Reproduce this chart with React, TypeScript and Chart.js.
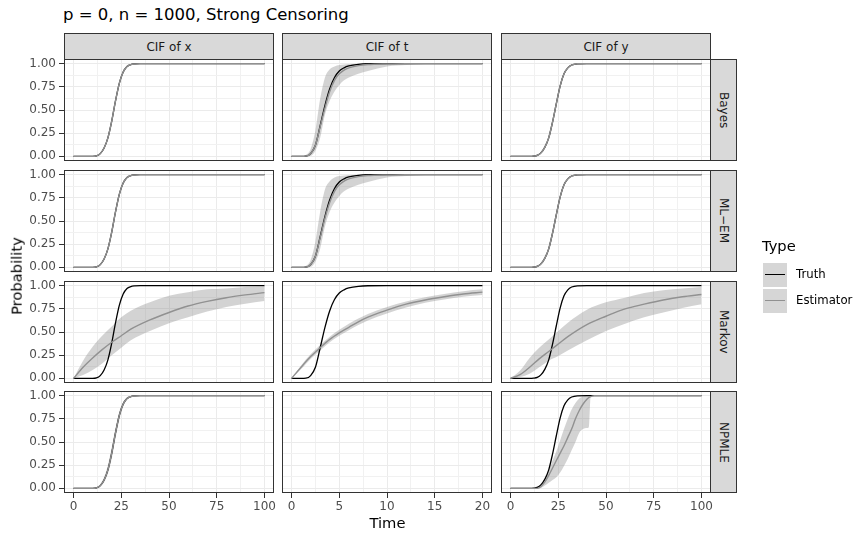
import React, { useEffect, useRef } from 'react';
import { Chart, registerables } from 'chart.js';
Chart.register(...registerables);

const FONT = "'DejaVu Sans', 'Liberation Sans', sans-serif";

// ---- facet labels ----
const colLabels = ['CIF of x', 'CIF of t', 'CIF of y'];
const rowLabels = ['Bayes', 'ML\u2212EM', 'Markov', 'NPMLE'];

// ---- tick values / labels ----
const xTicks100 = [0, 25, 50, 75, 100];
const xLabels100 = ['0', '25', '50', '75', '100'];
const xMinor100 = [12.5, 37.5, 62.5, 87.5];
const xTicks20 = [0, 5, 10, 15, 20];
const xLabels20 = ['0', '5', '10', '15', '20'];
const xMinor20 = [2.5, 7.5, 12.5, 17.5];
const yTicks = [0, 0.25, 0.5, 0.75, 1];
const yLabels = ['0.00', '0.25', '0.50', '0.75', '1.00'];
const yMinor = [0.125, 0.375, 0.625, 0.875];

// ---- time grids ----
const timeA = [0, 5, 10, 12, 14, 16, 18, 20, 22, 24, 26, 28, 30, 32, 35, 40, 50, 60, 70, 80, 90, 100];
const timeT = [0, 1, 1.5, 2, 2.5, 3, 3.5, 4, 4.5, 5, 5.5, 6, 7, 8, 10, 12, 14, 16, 18, 20];
const timeM = [0, 5, 10, 15, 20, 25, 30, 40, 50, 60, 70, 80, 90, 100];
const timeM2 = [0, 1, 2, 3, 4, 5, 6, 7, 8, 10, 12, 14, 16, 18, 20];
const timeN = [0, 10, 14, 16, 18, 20, 22, 24, 26, 28, 30, 32, 34, 36, 38, 40, 41, 42, 44, 50, 60, 70, 80, 90, 100];

// ---- truth ----
const truthX = [0, 0, 0, 0.005, 0.03, 0.09, 0.2, 0.38, 0.6, 0.79, 0.91, 0.97, 0.99, 0.997, 1, 1, 1, 1, 1, 1, 1, 1];
const truthT = [0, 0, 0.002, 0.03, 0.12, 0.33, 0.55, 0.73, 0.85, 0.92, 0.955, 0.975, 0.993, 0.999, 1, 1, 1, 1, 1, 1];
const truthY = [0, 0, 0, 0.002, 0.01, 0.04, 0.1, 0.2, 0.37, 0.57, 0.76, 0.89, 0.955, 0.985, 0.998, 1, 1, 1, 1, 1, 1, 1];

// ---- Bayes ----
const bayesEstX = [0, 0, 0, 0.005, 0.03, 0.09, 0.2, 0.38, 0.6, 0.79, 0.91, 0.97, 0.99, 0.997, 1, 1, 1, 1, 1, 1, 1, 1];
const bayesEstT = [0, 0, 0.002, 0.03, 0.12, 0.32, 0.52, 0.7, 0.82, 0.89, 0.93, 0.955, 0.978, 0.99, 0.997, 1, 1, 1, 1, 1];
const bayesHiT = [0, 0.002, 0.015, 0.08, 0.28, 0.62, 0.85, 0.94, 0.97, 0.985, 0.99, 0.995, 1, 1, 1, 1, 1, 1, 1, 1];
const bayesLoT = [0, 0, 0, 0.005, 0.06, 0.2, 0.45, 0.6, 0.7, 0.77, 0.82, 0.85, 0.89, 0.92, 0.97, 0.985, 0.995, 1, 1, 1];
const bayesEstY = [0, 0, 0, 0.002, 0.01, 0.04, 0.1, 0.2, 0.37, 0.57, 0.76, 0.89, 0.955, 0.985, 0.998, 1, 1, 1, 1, 1, 1, 1];

// ---- ML-EM ----
const emEstX = [0, 0, 0, 0.005, 0.03, 0.09, 0.2, 0.38, 0.6, 0.79, 0.91, 0.97, 0.99, 0.997, 1, 1, 1, 1, 1, 1, 1, 1];
const emEstT = [0, 0, 0.002, 0.03, 0.12, 0.32, 0.53, 0.7, 0.82, 0.89, 0.93, 0.955, 0.978, 0.99, 0.997, 1, 1, 1, 1, 1];
const emHiT = [0, 0.002, 0.015, 0.08, 0.28, 0.6, 0.84, 0.93, 0.97, 0.985, 0.99, 0.995, 1, 1, 1, 1, 1, 1, 1, 1];
const emLoT = [0, 0, 0, 0.005, 0.06, 0.2, 0.44, 0.6, 0.7, 0.77, 0.82, 0.85, 0.89, 0.92, 0.97, 0.985, 0.995, 1, 1, 1];
const emEstY = [0, 0, 0, 0.002, 0.01, 0.04, 0.1, 0.2, 0.37, 0.57, 0.76, 0.89, 0.955, 0.985, 0.998, 1, 1, 1, 1, 1, 1, 1];

// ---- Markov ----
const markovEstX = [0, 0.12, 0.22, 0.31, 0.39, 0.46, 0.53, 0.63, 0.71, 0.78, 0.83, 0.87, 0.9, 0.925];
const markovHiX = [0, 0.19, 0.34, 0.46, 0.56, 0.66, 0.73, 0.82, 0.89, 0.93, 0.96, 0.97, 0.985, 0.99];
const markovLoX = [0, 0.035, 0.09, 0.16, 0.25, 0.33, 0.41, 0.51, 0.595, 0.66, 0.72, 0.77, 0.805, 0.835];
const markovEstT = [0, 0.12, 0.235, 0.33, 0.42, 0.49, 0.55, 0.61, 0.66, 0.735, 0.8, 0.845, 0.88, 0.91, 0.93];
const markovHiT = [0, 0.14, 0.26, 0.36, 0.45, 0.525, 0.59, 0.645, 0.695, 0.77, 0.83, 0.875, 0.91, 0.94, 0.96];
const markovLoT = [0, 0.1, 0.21, 0.3, 0.39, 0.46, 0.52, 0.575, 0.625, 0.7, 0.765, 0.815, 0.85, 0.88, 0.9];
const markovEstY = [0, 0.04, 0.12, 0.21, 0.29, 0.37, 0.45, 0.58, 0.67, 0.75, 0.8, 0.845, 0.88, 0.905];
const markovHiY = [0, 0.085, 0.22, 0.33, 0.42, 0.51, 0.6, 0.74, 0.82, 0.87, 0.92, 0.95, 0.97, 0.985];
const markovLoY = [0, 0.015, 0.05, 0.12, 0.19, 0.24, 0.3, 0.41, 0.51, 0.59, 0.66, 0.71, 0.76, 0.8];

// ---- NPMLE ----
const npmleEstX = [0, 0, 0, 0.005, 0.03, 0.09, 0.2, 0.38, 0.6, 0.79, 0.91, 0.97, 0.99, 0.997, 1, 1, 1, 1, 1, 1, 1, 1];
const npmleHiX = [0, 0, 0, 0.01, 0.045, 0.12, 0.25, 0.44, 0.65, 0.83, 0.93, 0.98, 0.995, 1, 1, 1, 1, 1, 1, 1, 1, 1];
const npmleLoX = [0, 0, 0, 0.002, 0.018, 0.065, 0.16, 0.32, 0.54, 0.74, 0.88, 0.955, 0.985, 0.995, 1, 1, 1, 1, 1, 1, 1, 1];
const npmleEstY = [0, 0, 0, 0.02, 0.07, 0.14, 0.22, 0.3, 0.38, 0.46, 0.55, 0.64, 0.75, 0.84, 0.91, 0.96, 0.98, 0.99, 1, 1, 1, 1, 1, 1, 1];
const npmleHiY = [0, 0, 0.005, 0.04, 0.1, 0.19, 0.3, 0.4, 0.52, 0.64, 0.75, 0.85, 0.92, 0.97, 0.99, 1, 1, 1, 1, 1, 1, 1, 1, 1, 1];
const npmleLoY = [0, 0, 0, 0.005, 0.03, 0.06, 0.09, 0.12, 0.17, 0.24, 0.32, 0.41, 0.5, 0.6, 0.64, 0.65, 0.66, 1, 1, 1, 1, 1, 1, 1, 1];

type Cfg = {
  tx?: number[]; truth?: number[];
  ex?: number[]; est?: number[];
  bx?: number[]; hi?: number[]; lo?: number[];
  short?: boolean;
};

const panels: Cfg[][] = [
  [
    { tx: timeA, truth: truthX, ex: timeA, est: bayesEstX },
    { tx: timeT, truth: truthT, ex: timeT, est: bayesEstT, bx: timeT, hi: bayesHiT, lo: bayesLoT, short: true },
    { tx: timeA, truth: truthY, ex: timeA, est: bayesEstY },
  ],
  [
    { tx: timeA, truth: truthX, ex: timeA, est: emEstX },
    { tx: timeT, truth: truthT, ex: timeT, est: emEstT, bx: timeT, hi: emHiT, lo: emLoT, short: true },
    { tx: timeA, truth: truthY, ex: timeA, est: emEstY },
  ],
  [
    { tx: timeA, truth: truthX, ex: timeM, est: markovEstX, bx: timeM, hi: markovHiX, lo: markovLoX },
    { tx: timeT, truth: truthT, ex: timeM2, est: markovEstT, bx: timeM2, hi: markovHiT, lo: markovLoT, short: true },
    { tx: timeA, truth: truthY, ex: timeM, est: markovEstY, bx: timeM, hi: markovHiY, lo: markovLoY },
  ],
  [
    { tx: timeA, truth: truthX, ex: timeA, est: npmleEstX, bx: timeA, hi: npmleHiX, lo: npmleLoX },
    { short: true },
    { tx: timeA, truth: truthY, ex: timeN, est: npmleEstY, bx: timeN, hi: npmleHiY, lo: npmleLoY },
  ],
];

// ---- layout ----
const COL_LEFT = [64, 282, 501];
const ROW_TOP = [59, 170, 281, 391];
const PW = 210;
const PH = 102;
const YW = 50;
const XH = 30;
const P = 14;

const GREY = '#919191';
const RIBBON = 'rgba(128,128,128,0.35)';
const GRID = '#EBEBEB';
const GRID_MINOR = '#F1F1F1';
const DARK = '#333333';

const pts = (xs: number[], ys: number[]) => xs.map((x, i) => ({ x, y: ys[i] }));

const borderPlugin = {
  id: 'panelBorder',
  afterDraw(chart: any) {
    const { ctx, chartArea } = chart;
    const { left, top, right, bottom } = chartArea;
    ctx.save();
    ctx.strokeStyle = DARK;
    ctx.lineWidth = 1;
    ctx.strokeRect(left + 0.5, top + 0.5, right - left - 1, bottom - top - 1);
    ctx.restore();
  },
};

function Panel({ cfg, r, c }: { cfg: Cfg; r: number; c: number }) {
  const ref = useRef<HTMLCanvasElement>(null);
  const showY = c === 0;
  const showX = r === 3;
  const yw = showY ? YW : 0;
  const xh = showX ? XH : 0;
  const left = COL_LEFT[c] - yw - P;
  const top = ROW_TOP[r] - P;
  const width = PW + yw + 2 * P;
  const height = PH + xh + 2 * P;

  useEffect(() => {
    const xMajor = cfg.short ? xTicks20 : xTicks100;
    const xLab = cfg.short ? xLabels20 : xLabels100;
    const xMin = cfg.short ? xMinor20 : xMinor100;
    const xmax = cfg.short ? 20 : 100;
    const datasets: any[] = [];
    if (cfg.est && cfg.ex) {
      datasets.push({ data: pts(cfg.ex, cfg.est), borderColor: GREY, borderWidth: 1.4, fill: false });
    }
    if (cfg.truth && cfg.tx) {
      datasets.push({ data: pts(cfg.tx, cfg.truth), borderColor: '#000000', borderWidth: 1.3, fill: false });
    }
    if (cfg.hi && cfg.lo && cfg.bx) {
      datasets.push({ data: pts(cfg.bx, cfg.hi), borderWidth: 0, borderColor: 'rgba(0,0,0,0)', backgroundColor: RIBBON, fill: '+1' });
      datasets.push({ data: pts(cfg.bx, cfg.lo), borderWidth: 0, borderColor: 'rgba(0,0,0,0)', fill: false });
    }
    const isMaj = (arr: number[], v: any) => arr.indexOf(v) >= 0;
    const chart = new Chart(ref.current as HTMLCanvasElement, {
      type: 'line',
      data: { datasets },
      options: {
        animation: false,
        responsive: false,
        devicePixelRatio: 1,
        layout: { padding: P },
        plugins: { legend: { display: false }, tooltip: { enabled: false } },
        elements: { point: { radius: 0 }, line: { cubicInterpolationMode: 'monotone' } },
        scales: {
          x: {
            type: 'linear',
            min: -0.05 * xmax,
            max: 1.05 * xmax,
            afterBuildTicks: (s: any) => {
              s.ticks = [...xMajor, ...xMin].map((v) => ({ value: v }));
            },
            afterFit: (s: any) => {
              s.height = xh;
            },
            border: { display: false },
            grid: {
              color: (ctx: any) => (isMaj(xMajor, ctx.tick?.value) ? GRID : GRID_MINOR),
              lineWidth: 1,
              drawTicks: showX,
              tickLength: 5,
              tickWidth: 1,
              tickColor: (ctx: any) => (isMaj(xMajor, ctx.tick?.value) ? DARK : 'rgba(0,0,0,0)'),
            },
            ticks: {
              display: showX,
              autoSkip: false,
              maxRotation: 0,
              minRotation: 0,
              padding: 2,
              color: '#4D4D4D',
              font: { family: FONT, size: 12 },
              callback: (v: any) => {
                const i = xMajor.indexOf(v);
                return i >= 0 ? xLab[i] : '';
              },
            },
          },
          y: {
            type: 'linear',
            min: -0.05,
            max: 1.05,
            afterBuildTicks: (s: any) => {
              s.ticks = [...yTicks, ...yMinor].map((v) => ({ value: v }));
            },
            afterFit: (s: any) => {
              s.width = yw;
            },
            border: { display: false },
            grid: {
              color: (ctx: any) => (isMaj(yTicks, ctx.tick?.value) ? GRID : GRID_MINOR),
              lineWidth: 1,
              drawTicks: showY,
              tickLength: 5,
              tickWidth: 1,
              tickColor: (ctx: any) => (isMaj(yTicks, ctx.tick?.value) ? DARK : 'rgba(0,0,0,0)'),
            },
            ticks: {
              display: showY,
              autoSkip: false,
              padding: 3,
              color: '#4D4D4D',
              font: { family: FONT, size: 12 },
              callback: (v: any) => {
                const i = yTicks.indexOf(v);
                return i >= 0 ? yLabels[i] : '';
              },
            },
          },
        },
      } as any,
      plugins: [borderPlugin],
    });
    return () => chart.destroy();
  }, []);

  return (
    <canvas
      ref={ref}
      width={width}
      height={height}
      style={{ position: 'absolute', left, top, width, height }}
    />
  );
}

const txt = (extra: React.CSSProperties): React.CSSProperties => ({
  position: 'absolute',
  whiteSpace: 'nowrap',
  fontFamily: FONT,
  ...extra,
});

export default function App() {
  return (
    <div style={{ position: 'absolute', left: 0, top: 0, width: 854, height: 535, background: '#ffffff', overflow: 'hidden' }}>
      <div style={txt({ left: 63, top: 7, fontSize: 16.5, lineHeight: '16.5px', color: '#000' })}>
        p = 0, n = 1000, Strong Censoring
      </div>
      {colLabels.map((lab, c) => (
        <div
          key={'cs' + c}
          style={txt({
            left: COL_LEFT[c], top: 33, width: PW, height: 27, boxSizing: 'border-box',
            border: '1px solid ' + DARK, background: '#D9D9D9', color: '#1A1A1A',
            fontSize: 12, display: 'flex', alignItems: 'center', justifyContent: 'center',
          })}
        >
          {lab}
        </div>
      ))}
      {rowLabels.map((lab, r) => (
        <div
          key={'rs' + r}
          style={txt({
            left: COL_LEFT[2] + PW - 1, top: ROW_TOP[r], width: 27, height: PH, boxSizing: 'border-box',
            border: '1px solid ' + DARK, background: '#D9D9D9', color: '#1A1A1A',
            fontSize: 12, display: 'flex', alignItems: 'center', justifyContent: 'center',
          })}
        >
          <span style={{ writingMode: 'vertical-rl' }}>{lab}</span>
        </div>
      ))}
      {panels.map((row, r) => row.map((cfg, c) => <Panel key={r + '-' + c} cfg={cfg} r={r} c={c} />))}
      <div style={txt({ left: 387.5, top: 515.5, fontSize: 14.7, lineHeight: '14.7px', transform: 'translateX(-50%)', color: '#000' })}>
        Time
      </div>
      <div style={txt({ left: 17, top: 275.5, fontSize: 14.7, lineHeight: '14.7px', transform: 'translate(-50%,-50%) rotate(-90deg)', color: '#000' })}>
        Probability
      </div>
      <div style={txt({ left: 762, top: 239, fontSize: 14.7, lineHeight: '14.7px', color: '#000' })}>Type</div>
      <div style={{ position: 'absolute', left: 763, top: 263, width: 24, height: 24, background: '#D6D6D6' }}>
        <div style={{ position: 'absolute', left: 2, top: 11, width: 20, height: 1.4, background: '#000' }} />
      </div>
      <div style={{ position: 'absolute', left: 763, top: 289, width: 24, height: 24, background: '#D6D6D6' }}>
        <div style={{ position: 'absolute', left: 2, top: 11, width: 20, height: 1.4, background: GREY }} />
      </div>
      <div style={txt({ left: 796, top: 269, fontSize: 11.7, lineHeight: '11.7px', color: '#000' })}>Truth</div>
      <div style={txt({ left: 796, top: 295, fontSize: 11.7, lineHeight: '11.7px', color: '#000' })}>Estimator</div>
    </div>
  );
}
